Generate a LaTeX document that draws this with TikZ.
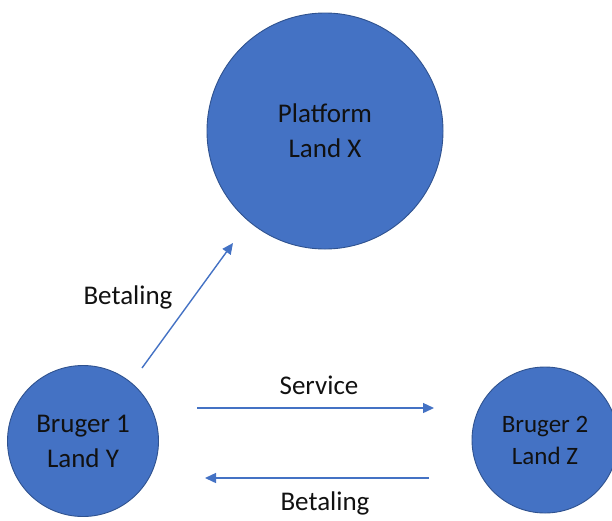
\documentclass[tikz,border=0pt]{standalone}
\usepackage{fontspec}
\setmainfont{Carlito}
\usetikzlibrary{arrows.meta}
\definecolor{officeblue}{HTML}{4472C4}
\definecolor{officeedge}{HTML}{2F528F}
\definecolor{textdark}{HTML}{111111}
\begin{document}
\begin{tikzpicture}[x=1pt,y=-1pt,
  party/.style={circle, fill=officeblue, draw=officeedge, line width=0.9pt,
    inner sep=0pt, align=center, text=textdark,
    font=\fontsize{27}{35}\selectfont},
  flow/.style={draw=officeblue, line width=1.4pt,
    -{Triangle[length=11pt,width=10pt]}},
  tag/.style={anchor=base, text=textdark, inner sep=0pt,
    font=\fontsize{27}{32}\selectfont}]
  \useasboundingbox (0,0) rectangle (612,520);

  % participants
  \node[party, minimum size=236pt] (platform) at (325,131) {Platform\\Land X};
  \node[party, minimum size=151pt] (user1) at (83,441) {Bruger 1\\Land Y};
  \node[party, minimum size=146pt, font=\fontsize{25}{32}\selectfont] (user2) at (545,440) {Bruger 2\\Land Z};

  % arrow end points
  \coordinate (payA) at (142,368);
  \coordinate (payB) at (233,243);
  \coordinate (svcA) at (197,408);
  \coordinate (svcB) at (434,408);
  \coordinate (retA) at (429,478);
  \coordinate (retB) at (205,478);

  % payment to the platform
  \draw[flow] (payA) -- (payB);
  \node[tag] (paylabel) at (128,304) {Betaling};

  % service between the users
  \draw[flow] (svcA) -- (svcB);
  \node[tag] (svclabel) at (319,394) {Service};

  % payment back
  \draw[flow] (retA) -- (retB);
  \node[tag] (retlabel) at (325,510) {Betaling};
\end{tikzpicture}
\end{document}
